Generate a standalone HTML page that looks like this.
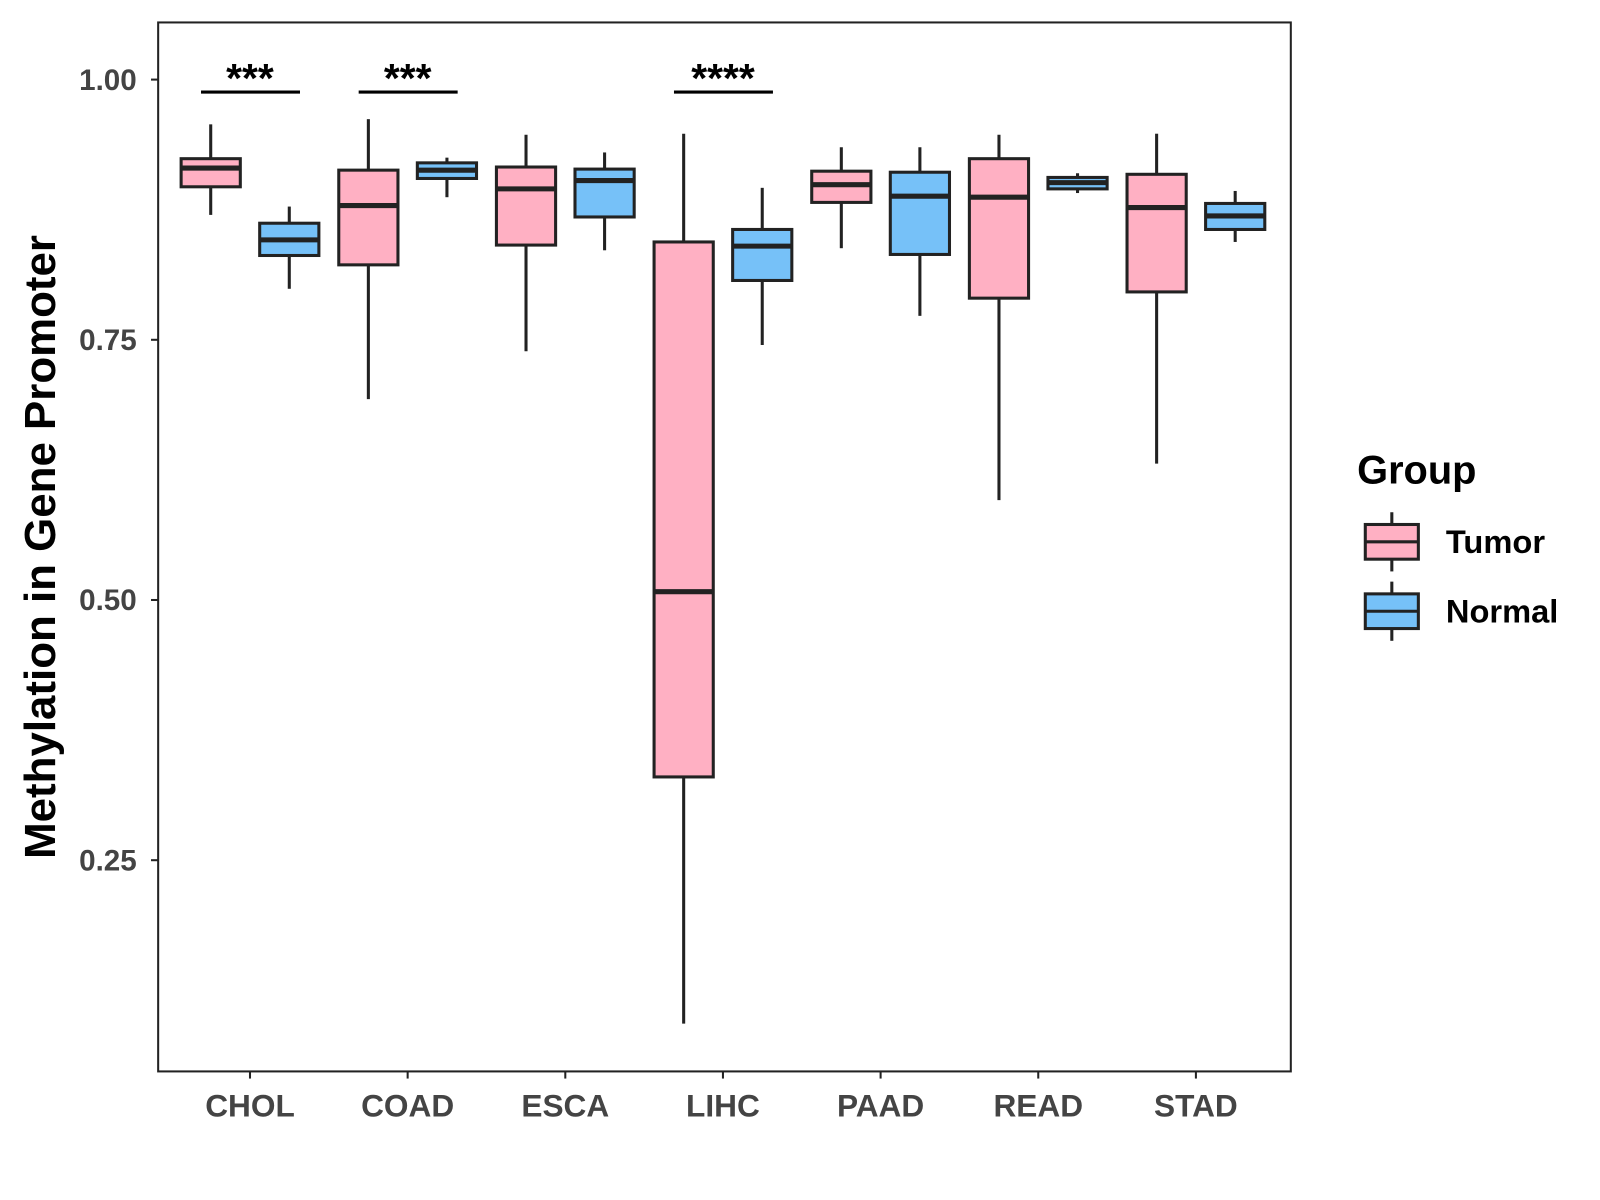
<!DOCTYPE html>
<html><head><meta charset="utf-8">
<style>
body{margin:0;background:#fff;}
svg{display:block;font-family:"Liberation Sans",Arial,sans-serif;}
</style></head>
<body>
<svg id="chart" width="1600" height="1200" xmlns="http://www.w3.org/2000/svg">
<rect x="0" y="0" width="1600" height="1200" fill="#fff"/>
<g transform="scale(1.0204)">
<rect x="155" y="22" width="1110" height="1028" fill="none" stroke="#222" stroke-width="2"/>
<text transform="translate(54,536) rotate(-90)" text-anchor="middle" font-size="43" font-weight="bold" fill="#000">Methylation in Gene Promoter</text>
<text x="1330" y="474" font-size="39" font-weight="bold" fill="#000">Group</text>
<g id="marks"></g>
</g>
</svg>
<script>
const categories=["CHOL","COAD","ESCA","LIHC","PAAD","READ","STAD"];
const tumorLow=[0.870,0.693,0.739,0.093,0.838,0.596,0.631];
const tumorQ1=[0.897,0.822,0.841,0.330,0.882,0.790,0.796];
const tumorMed=[0.915,0.879,0.895,0.508,0.899,0.887,0.877];
const tumorQ3=[0.924,0.913,0.916,0.844,0.912,0.924,0.909];
const tumorHigh=[0.957,0.962,0.947,0.948,0.935,0.947,0.948];
const normalLow=[0.799,0.887,0.836,0.745,0.773,0.891,0.844];
const normalQ1=[0.831,0.905,0.868,0.807,0.832,0.895,0.856];
const normalMed=[0.846,0.913,0.903,0.840,0.888,0.901,0.869];
const normalQ3=[0.862,0.920,0.914,0.856,0.911,0.906,0.881];
const normalHigh=[0.878,0.925,0.930,0.896,0.935,0.910,0.893];
const yTicks=[0.25,0.50,0.75,1.00];
const yTickLabels=["0.25","0.50","0.75","1.00"];
const sigCategories=["CHOL","COAD","LIHC"];
const sigLabels=["***","***","****"];
const sigLevel=0.988;

const NS="http://www.w3.org/2000/svg";
const g=document.getElementById("marks");
function y(v){return 78+(1-v)*1020;}
function x(i){return 245+i*154.5;}
function el(tag,attrs,parent){const e=document.createElementNS(NS,tag);for(const k in attrs)e.setAttribute(k,attrs[k]);(parent||g).appendChild(e);return e;}

yTicks.forEach((t,i)=>{
  const tk=el("line",{x1:148,x2:155,y1:y(t),y2:y(t),stroke:"#222","stroke-width":2});
  
  
  const lb=el("text",{x:134,y:y(t)+10,"text-anchor":"end","font-size":29,"font-weight":"bold",fill:"#444"});
  lb.textContent=yTickLabels[i];
  
  
});
categories.forEach((c,i)=>{
  const tk=el("line",{x1:x(i),x2:x(i),y1:1050,y2:1057,stroke:"#222","stroke-width":2});
  
  
  const lb=el("text",{x:x(i),y:1094,"text-anchor":"middle","font-size":31,"font-weight":"bold",fill:"#444"});
  lb.textContent=c;
  
  
});
function box(cx,lo,q1,md,q3,hi,fill,name){
  const grp=el("g",{});
  
  
  el("line",{x1:cx,x2:cx,y1:y(hi),y2:y(q3),stroke:"#222","stroke-width":3},grp);
  el("line",{x1:cx,x2:cx,y1:y(q1),y2:y(lo),stroke:"#222","stroke-width":3},grp);
  el("rect",{x:cx-29,y:y(q3),width:58,height:Math.max(1,y(q1)-y(q3)),fill:fill,stroke:"#222","stroke-width":3},grp);
  el("line",{x1:cx-29,x2:cx+29,y1:y(md),y2:y(md),stroke:"#222","stroke-width":5},grp);
}
categories.forEach((c,i)=>{
  box(x(i)-38.5,tumorLow[i],tumorQ1[i],tumorMed[i],tumorQ3[i],tumorHigh[i],"#FFB0C3","box-tumor-"+c.toLowerCase());
  box(x(i)+38.5,normalLow[i],normalQ1[i],normalMed[i],normalQ3[i],normalHigh[i],"#76C1F8","box-normal-"+c.toLowerCase());
});
sigCategories.forEach((c,k)=>{
  const i=categories.indexOf(c);
  const ln=el("line",{x1:x(i)-48,x2:x(i)+49,y1:y(sigLevel),y2:y(sigLevel),stroke:"#000","stroke-width":3});
  
  
  const t=el("text",{x:x(i),y:y(sigLevel),"text-anchor":"middle","font-size":40,"font-weight":"bold",fill:"#000"});
  t.textContent=sigLabels[k];
  
  
});
[["Tumor","#FFB0C3",531],["Normal","#76C1F8",599]].forEach(([lab,fill,cy])=>{
  const grp=el("g",{});
  
  
  el("line",{x1:1364,x2:1364,y1:cy-29,y2:cy+29,stroke:"#222","stroke-width":3},grp);
  el("rect",{x:1338,y:cy-17,width:52,height:34,fill:fill,stroke:"#222","stroke-width":3},grp);
  el("line",{x1:1338,x2:1390,y1:cy,y2:cy,stroke:"#222","stroke-width":3},grp);
  const t=el("text",{x:1417,y:cy+11,"font-size":32,"font-weight":"bold",fill:"#000"},grp);
  t.textContent=lab;
});
</script>
</body></html>
